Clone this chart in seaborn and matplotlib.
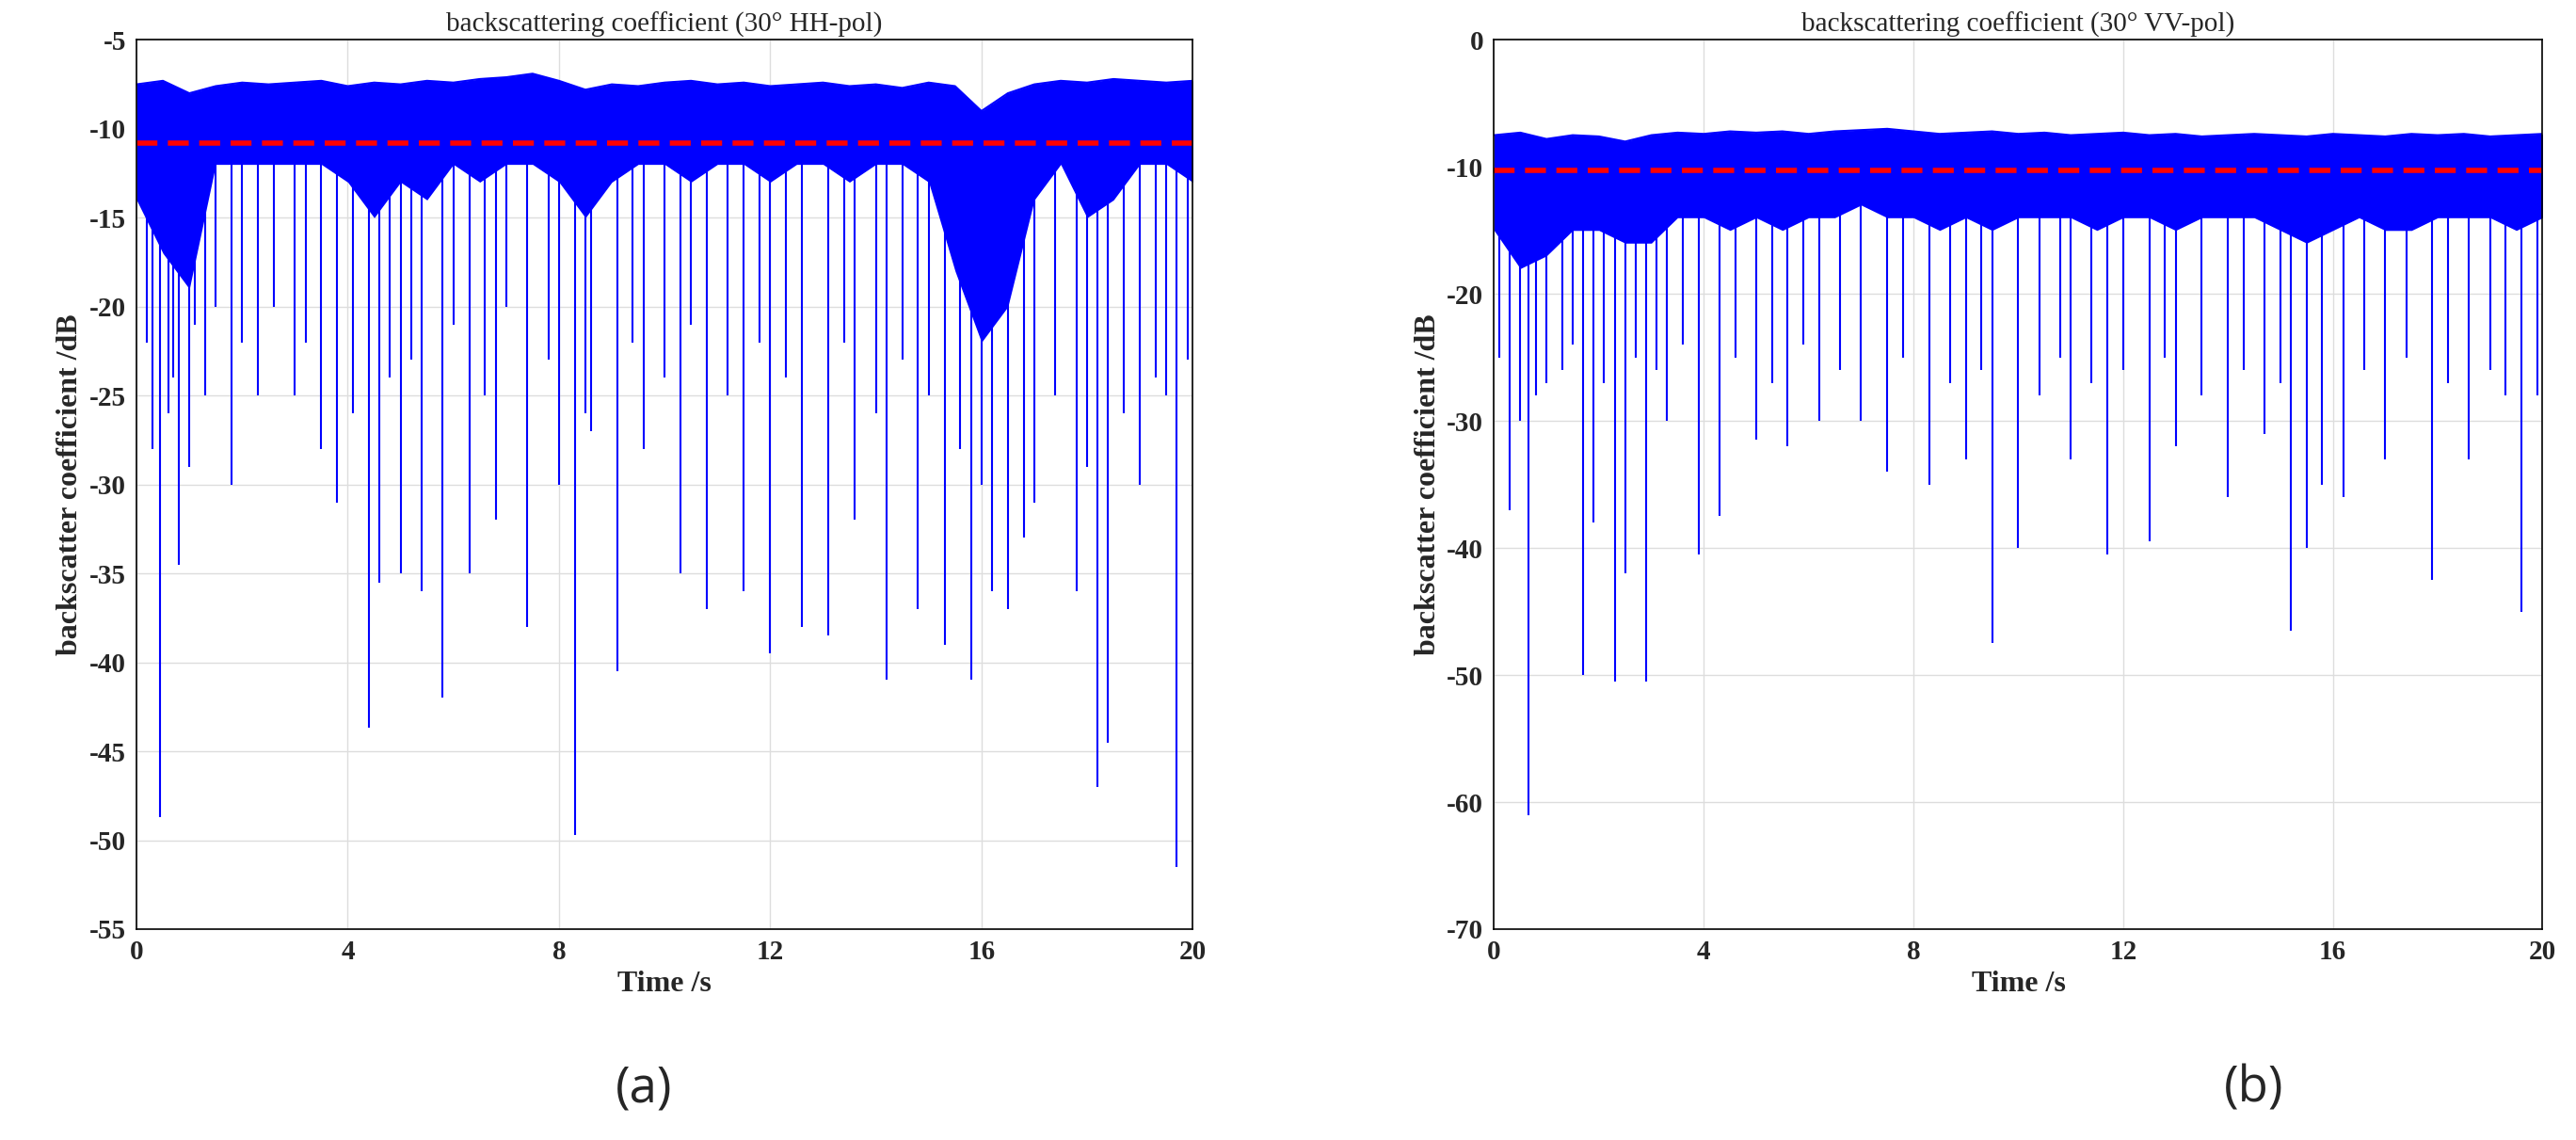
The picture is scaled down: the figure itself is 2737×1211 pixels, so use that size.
import matplotlib
matplotlib.use("Agg")
import matplotlib.pyplot as plt
import seaborn as sns
import numpy as np

sns.set_style("white")
plt.rcParams['font.family'] = ['Liberation Serif', 'DejaVu Serif']
plt.rcParams['axes.unicode_minus'] = False

# envelope of the dense signal (time, upper, typical lower)
env_t = [0,0.5,1,1.5,2,2.5,3,3.5,4,4.5,5,5.5,6,6.5,7,7.5,8,8.5,9,9.5,10,10.5,11,11.5,12,12.5,13,13.5,14,14.5,15,15.5,16,16.5,17,17.5,18,18.5,19,19.5,20]
hh_up  = [-7.5,-7.3,-8,-7.6,-7.4,-7.5,-7.4,-7.3,-7.6,-7.4,-7.5,-7.3,-7.4,-7.2,-7.1,-6.9,-7.3,-7.8,-7.5,-7.6,-7.4,-7.3,-7.5,-7.4,-7.6,-7.5,-7.4,-7.6,-7.5,-7.7,-7.4,-7.6,-9,-8,-7.5,-7.3,-7.4,-7.2,-7.3,-7.4,-7.3]
hh_low = [-14,-17,-19,-12,-12,-12,-12,-12,-13,-15,-13,-14,-12,-13,-12,-12,-13,-15,-13,-12,-12,-13,-12,-12,-13,-12,-12,-13,-12,-12,-13,-18,-22,-20,-14,-12,-15,-14,-12,-12,-13]
vv_up  = [-7.5,-7.3,-7.8,-7.5,-7.6,-8,-7.5,-7.3,-7.4,-7.2,-7.3,-7.2,-7.4,-7.2,-7.1,-7.0,-7.2,-7.4,-7.3,-7.2,-7.4,-7.3,-7.5,-7.4,-7.3,-7.5,-7.4,-7.6,-7.5,-7.4,-7.5,-7.6,-7.4,-7.5,-7.6,-7.4,-7.5,-7.4,-7.6,-7.5,-7.4]
vv_low = [-15,-18,-17,-15,-15,-16,-16,-14,-14,-15,-14,-15,-14,-14,-13,-14,-14,-15,-14,-15,-14,-14,-14,-15,-14,-14,-15,-14,-14,-14,-15,-16,-15,-14,-15,-15,-14,-14,-14,-15,-14]

hh_spk_t = [0.3,0.45,0.6,0.8,1.0,1.3,1.8,2.3,3.0,3.5,3.8,4.1,4.4,4.6,5.0,5.4,5.8,6.3,6.8,7.4,8.0,8.3,8.6,9.1,9.6,10.3,10.8,11.5,12.0,12.6,13.1,13.6,14.2,14.8,15.3,15.8,16.2,16.5,17.0,17.8,18.2,18.4,19.0,19.7,19.9,
            0.2,0.7,1.1,1.5,2.0,2.6,3.2,4.8,5.2,6.0,6.6,7.0,7.8,8.5,9.4,10.0,10.5,11.2,11.8,12.3,13.4,14.0,14.5,15.0,15.6,16.0,16.8,17.4,18.0,18.7,19.3,19.5]
hh_spk_v = [-28,-48.7,-26,-34.5,-29,-25,-30,-25,-25,-28,-31,-26,-43.7,-35.5,-35,-36,-42,-35,-32,-38,-30,-49.7,-27,-40.5,-28,-35,-37,-36,-39.5,-38,-38.5,-32,-41,-37,-39,-41,-36,-37,-31,-36,-47,-44.5,-30,-51.5,-23,
            -22,-24,-21,-20,-22,-20,-22,-24,-23,-21,-25,-20,-23,-26,-22,-24,-21,-25,-22,-24,-22,-26,-23,-25,-28,-30,-33,-25,-29,-26,-24,-25]
vv_spk_t = [0.3,0.5,0.65,1.0,1.7,1.9,2.3,2.5,2.9,3.3,3.9,4.3,5.0,5.6,6.2,7.0,7.5,8.3,9.0,9.5,10.0,11.0,11.7,12.5,13.0,14.0,14.7,15.2,15.5,16.2,17.0,17.9,18.6,19.6,19.9,
            0.1,0.8,1.3,1.5,2.1,2.7,3.1,3.6,4.6,5.3,5.9,6.6,7.8,8.7,9.3,10.4,10.8,11.4,12.0,12.8,13.5,14.3,15.0,15.8,16.6,17.4,18.2,19.0,19.3]
vv_spk_v = [-37,-30,-61,-27,-50,-38,-50.5,-42,-50.5,-30,-40.5,-37.5,-31.5,-32,-30,-30,-34,-35,-33,-47.5,-40,-33,-40.5,-39.5,-32,-36,-31,-46.5,-40,-36,-33,-42.5,-33,-45,-28,
            -25,-28,-26,-24,-27,-25,-26,-24,-25,-27,-24,-26,-25,-27,-26,-28,-25,-27,-26,-25,-28,-26,-27,-35,-26,-25,-27,-26,-28]
hh_mean = -10.8
vv_mean = -10.3

fig = plt.figure(figsize=(27.37, 12.11), dpi=100)
ax1 = fig.add_axes([0.053, 0.185, 0.41, 0.78])
ax2 = fig.add_axes([0.580, 0.185, 0.407, 0.78])

def panel(ax, up, low, st, sv, mean, ylim, yt, title):
    ax.fill_between(env_t, up, low, color='blue', lw=0)
    sns.lineplot(x=env_t, y=up, ax=ax, color='blue', lw=1.5)
    up_at = np.interp(st, env_t, up)
    ax.vlines(st, sv, up_at, color='blue', lw=1.5)
    sns.lineplot(x=[0, 20], y=[mean, mean], ax=ax, color='red', lw=4, linestyle=(0, (4, 2)))
    ax.set_xlim(0, 20)
    ax.set_ylim(*ylim)
    ax.set_xticks([0, 4, 8, 12, 16, 20])
    ax.set_yticks(yt)
    ax.grid(True, color='#dddddd', lw=1)
    ax.set_axisbelow(True)
    for s in ax.spines.values():
        s.set_color('black'); s.set_linewidth(1.2)
    ax.tick_params(labelsize=21, direction='in', length=6, width=1.2, pad=8)
    for lab in ax.get_xticklabels() + ax.get_yticklabels():
        lab.set_fontweight('bold')
    ax.set_xlabel('Time /s', fontsize=23, fontweight='bold')
    ax.set_ylabel('backscatter coefficient /dB', fontsize=23, fontweight='bold')
    ax.set_title(title, fontsize=21)

panel(ax1, hh_up, hh_low, hh_spk_t, hh_spk_v, hh_mean, (-55, -5), list(range(-55, 0, 5)),
      'backscattering coefficient (30° HH-pol)')
panel(ax2, vv_up, vv_low, vv_spk_t, vv_spk_v, vv_mean, (-70, 0), list(range(-70, 1, 10)),
      'backscattering coefficient (30° VV-pol)')

fig.text(0.25, 0.045, '(a)', fontsize=38, ha='center', va='center', family=['Open Sans', 'DejaVu Sans'])
fig.text(0.875, 0.045, '(b)', fontsize=38, ha='center', va='center', family=['Open Sans', 'DejaVu Sans'])

fig.savefig('out.png', dpi=100, facecolor='white')
